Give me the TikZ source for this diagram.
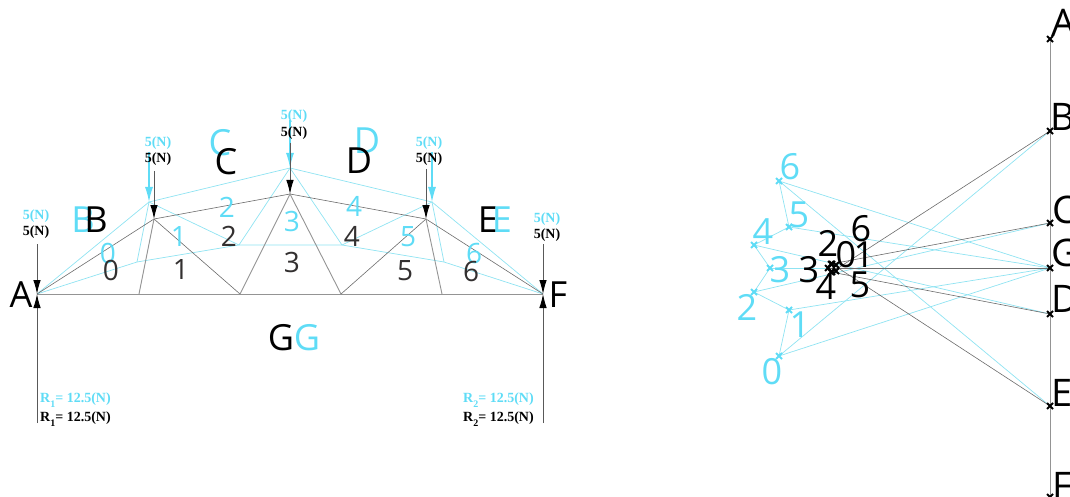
\documentclass[tikz,border=0pt]{standalone}
\usepackage{fontspec}
\setmainfont{Open Sans}
\newfontfamily\lblfont{Liberation Serif}[BoldFont={Liberation Serif Bold}]
\usetikzlibrary{arrows.meta,shapes.misc}
\definecolor{cy}{HTML}{5FDCF6}
\definecolor{cyl}{HTML}{8FE3F2}
\definecolor{dk}{HTML}{333030}
\tikzset{
 x=1pt,y=-1pt,
 chord/.style={draw=black!42,line width=0.9pt},
 memb/.style={draw=black!58,line width=0.6pt},
 cmemb/.style={draw=cyl,line width=0.7pt},
 bigb/.style={inner sep=0,text=black,font=\fontsize{36}{36}\selectfont},
 bigc/.style={inner sep=0,text=cy,font=\fontsize{36}{36}\selectfont},
 polyb/.style={inner sep=0,text=black,font=\fontsize{38}{38}\selectfont},
 digb/.style={inner sep=0,text=dk,font=\fontsize{28}{28}\selectfont},
 digc/.style={inner sep=0,text=cy,font=\fontsize{28}{28}\selectfont},
 pdigb/.style={inner sep=0,text=black,font=\fontsize{36}{36}\selectfont},
 pdigc/.style={inner sep=0,text=cy,font=\fontsize{36}{36}\selectfont},
 forceb/.style={inner sep=0,text=black,font=\lblfont\bfseries\fontsize{14}{14}\selectfont},
 forcec/.style={inner sep=0,text=cy,font=\lblfont\bfseries\fontsize{14}{14}\selectfont},
 loadb/.style={draw=black!65,line width=0.9pt,-{Latex[length=14pt,width=7.5pt,black]}},
 loadc/.style={draw=cy,line width=1.3pt,-{Latex[length=15pt,width=8pt,cy]}},
 xb/.style={inner sep=0,minimum size=0pt,
   append after command={\pgfextra{\let\tn\tikzlastnode
     \draw[black,line width=1.9pt] ([shift={(-3pt,-3pt)}]\tn.center)--([shift={(3pt,3pt)}]\tn.center)
        ([shift={(-3pt,3pt)}]\tn.center)--([shift={(3pt,-3pt)}]\tn.center);}}},
 xc/.style={inner sep=0,minimum size=0pt,
   append after command={\pgfextra{\let\tn\tikzlastnode
     \draw[cy,line width=1.9pt] ([shift={(-3pt,-3pt)}]\tn.center)--([shift={(3pt,3pt)}]\tn.center)
        ([shift={(-3pt,3pt)}]\tn.center)--([shift={(3pt,-3pt)}]\tn.center);}}},
}
\newcommand{\rlab}[1]{R\raisebox{-5pt}{\fontsize{10}{10}\selectfont #1}= 12.5(N)}
\begin{document}
\begin{tikzpicture}
\useasboundingbox (0,0) rectangle (1070,497);
% ---- truss joints
\coordinate (A) at (37,294); \coordinate (F) at (543,294);
\coordinate (b1) at (139,294); \coordinate (b2) at (240,294);
\coordinate (b3) at (341,294); \coordinate (b4) at (442,294);
\coordinate (t1) at (154,219); \coordinate (t2) at (290,194); \coordinate (t3) at (426,219);
\coordinate (cb1) at (137,262); \coordinate (cb2) at (239,245);
\coordinate (cb3) at (342,245); \coordinate (cb4) at (444,262);
\coordinate (ct1) at (149,202); \coordinate (ct2) at (290,168); \coordinate (ct3) at (432,202);
% cyan truss
\draw[cmemb] (A)--(ct1)--(ct2)--(ct3)--(F);
\draw[cmemb] (A)--(cb1)--(cb2)--(cb3)--(cb4)--(F);
\draw[cmemb] (cb1)--(ct1)--(cb2)--(ct2)--(cb3)--(ct3)--(cb4);
% black truss
\draw[chord] (A)--(F);
\draw[memb] (A)--(t1)--(t2)--(t3)--(F);
\draw[chord] (b1)--(t1);
\draw[memb] (t1)--(b2);
\draw[chord] (b2)--(t2)--(b3);
\draw[memb] (b3)--(t3);
\draw[chord] (t3)--(b4);
% ---- loads
\coordinate (lA) at (37,244); \coordinate (lF) at (543,244);
\coordinate (rA) at (37,423); \coordinate (rF) at (543,423);
\coordinate (l1) at (154,171); \coordinate (l2) at (290,143); \coordinate (l3) at (426,169);
\coordinate (c1) at (149,152); \coordinate (c2) at (290,120); \coordinate (c3) at (432,152);
\draw[loadc] (c1)--(ct1);
\draw[loadc] (c2)--(ct2);
\draw[loadc] (c3)--(ct3);
\draw[loadb] (lA)--(A);
\draw[loadb] (lF)--(F);
\draw[loadb] (rA)--(A);
\draw[loadb] (rF)--(F);
\draw[loadb] (l1)--(t1);
\draw[loadb] (l2)--(t2);
\draw[loadb] (l3)--(t3);
% ---- force labels
\node[forcec] (fcA) at (36,216) {5(N)};
\node[forceb] (fbA) at (36,232) {5(N)};
\node[forcec] (fc1) at (158,143) {5(N)};
\node[forceb] (fb1) at (158,159) {5(N)};
\node[forcec] (fc2) at (294,116) {5(N)};
\node[forceb] (fb2) at (294,133) {5(N)};
\node[forcec] (fc3) at (429,143) {5(N)};
\node[forceb] (fb3) at (429,159) {5(N)};
\node[forcec] (fcF) at (547,219) {5(N)};
\node[forceb] (fbF) at (547,235) {5(N)};
\node[forcec,anchor=west] (rc1) at (40,400) {\rlab{1}};
\node[forceb,anchor=west] (rb1) at (40,419) {\rlab{1}};
\node[forcec,anchor=west] (rc2) at (463,400) {\rlab{2}};
\node[forceb,anchor=west] (rb2) at (463,419) {\rlab{2}};
% ---- truss letters
\node[bigb] (nA) at (21,295) {A};
\node[bigc] (nBc) at (83,220) {B};
\node[bigb] (nB) at (96,220) {B};
\node[bigc] (nCc) at (220,143) {C};
\node[bigb] (nC) at (226,162) {C};
\node[bigc] (nDc) at (367,141) {D};
\node[bigb] (nD) at (359,161) {D};
\node[bigb] (nE) at (488,220) {E};
\node[bigc] (nEc) at (502,220) {E};
\node[bigb] (nF) at (558,295) {F};
\node[bigb] (nG) at (281,338) {G};
\node[bigc] (nGc) at (307,338) {G};
% ---- truss digits
\node[digc] (d0c) at (108,253) {0}; \node[digb] (d0) at (111,270) {0};
\node[digc] (d1c) at (179,237) {1}; \node[digb] (d1) at (181,270) {1};
\node[digc] (d2c) at (227,207) {2}; \node[digb] (d2) at (229,236) {2};
\node[digc] (d3c) at (292,221) {3}; \node[digb] (d3) at (292,262) {3};
\node[digc] (d4c) at (354,206) {4}; \node[digb] (d4) at (352,236) {4};
\node[digc] (d5c) at (408,237) {5}; \node[digb] (d5) at (405,271) {5};
\node[digc] (d6c) at (474,253) {6}; \node[digb] (d6) at (471,271) {6};
% ---- force polygon points (connector layer first)
\coordinate (pA) at (1050,39);
\coordinate (pB) at (1050,131);
\coordinate (pC) at (1050,223);
\coordinate (pG) at (1050,268);
\coordinate (pD) at (1050,314);
\coordinate (pE) at (1050,406);
\coordinate (pF) at (1050,497);
\coordinate (q0) at (779,356);
\coordinate (q1) at (789,310);
\coordinate (q2) at (754,292);
\coordinate (q3) at (770,268);
\coordinate (q4) at (754,245);
\coordinate (q5) at (789,227);
\coordinate (q6) at (779,181);
\coordinate (k0) at (832,272); \coordinate (k1) at (836,271);
\coordinate (k2) at (831,264); \coordinate (k3) at (828,268);
\coordinate (k4) at (831,272); \coordinate (k5) at (836,265);
\coordinate (k6) at (832,264);
% cyan polygon
\draw[cmemb] (q0)--(q1)--(q2)--(q3)--(q4)--(q5)--(q6);
\draw[cmemb] (q0)--(pB);
\draw[cmemb] (q0)--(pG);
\draw[cmemb] (q1)--(pG);
\draw[cmemb] (q2)--(pC);
\draw[cmemb] (q3)--(pG);
\draw[cmemb] (q4)--(pD);
\draw[cmemb] (q5)--(pG);
\draw[cmemb] (q6)--(pG);
\draw[cmemb] (q6)--(pE);
% black polygon
\draw[chord] (pA)--(pF);
\draw[memb] (k0)--(pB);
\draw[memb] (k2)--(pC);
\draw[memb] (k3)--(pG);
\draw[memb] (k4)--(pD);
\draw[memb] (k6)--(pE);
% point marks
\foreach \n in {0,...,6}{\node[xc] (qx\n) at (q\n) {};}
\foreach \n in {0,...,6}{\node[xb] (kx\n) at (k\n) {};}
\foreach \n in {A,B,C,G,D,E,F}{\node[xb] (px\n) at (p\n) {};}
% ---- polygon letters
\node[polyb] (mA) at (1064,23) {A};
\node[polyb] (mB) at (1063,117) {B};
\node[polyb] (mC) at (1064,210) {C};
\node[polyb] (mG) at (1065,253) {G};
\node[polyb] (mD) at (1065,299) {D};
\node[polyb] (mE) at (1062,393) {E};
\node[polyb] (mF) at (1062,486) {F};
% ---- polygon digits
\node[pdigc] (e0c) at (772,372) {0};
\node[pdigc] (e1c) at (800,325) {1};
\node[pdigc] (e2c) at (747,307) {2};
\node[pdigc] (e3c) at (780,270) {3};
\node[pdigc] (e4c) at (763,232) {4};
\node[pdigc] (e5c) at (799,215) {5};
\node[pdigc] (e6c) at (790,167) {6};
\node[pdigb] (e0) at (846,255) {0};
\node[pdigb] (e1) at (864,255) {1};
\node[pdigb] (e2) at (828,243) {2};
\node[pdigb] (e3) at (809,270) {3};
\node[pdigb] (e4) at (826,287) {4};
\node[pdigb] (e5) at (860,285) {5};
\node[pdigb] (e6) at (861,229) {6};
\end{tikzpicture}
\end{document}
